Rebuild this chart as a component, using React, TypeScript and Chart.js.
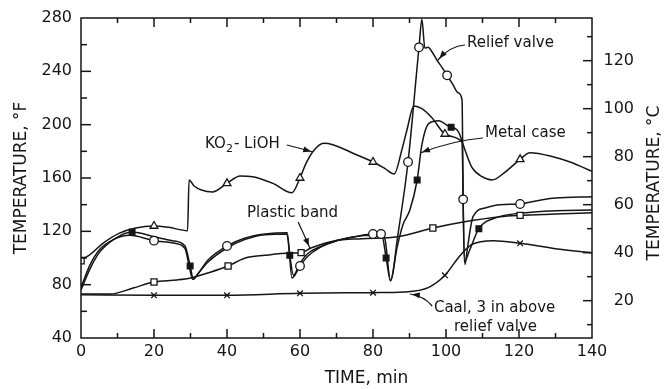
import React, { useEffect, useRef } from "react";
import { Chart, registerables } from "chart.js";

Chart.register(...registerables);

type P = [number, number];

// ---- axes ----
const timeRange: P = [0, 140];
const tempFRange: P = [40, 280];
const timeLabels = [0, 20, 40, 60, 80, 100, 120, 140];
const tempFLabels = [40, 80, 120, 160, 200, 240, 280];
const tempCLabels = [20, 40, 60, 80, 100, 120];

// ---- series (time min, temperature °F) ----
const ko2LiOH: P[] = [
  [0, 99], [2.2, 102], [6, 111], [10.4, 118.5], [15, 122.5], [20, 124], [24, 123], [29.2, 120.5],
  [29.6, 158.5], [31, 154], [33, 151], [36, 149.5], [40, 156], [43.6, 161.5], [47, 161], [52.6, 156],
  [57.8, 149], [60, 160], [61.5, 170], [63.6, 180], [66.5, 186], [69, 185], [75, 178], [80, 172],
  [83.3, 167], [85.8, 163], [87.9, 181], [89.3, 196], [91.2, 214], [93.4, 212], [96.2, 205],
  [99.7, 193], [104.4, 187], [105.2, 181], [107.1, 168], [109.9, 161], [112.6, 158.5], [116, 164],
  [120.3, 174], [123, 179], [129.3, 176], [134, 172], [140, 165],
];
const ko2LiOHMarks: P[] = [[0, 98], [20, 124], [40, 156], [60, 160], [80, 172], [99.7, 193], [120.3, 174]];

const reliefValve: P[] = [
  [0, 78], [2.5, 95], [5, 106], [9, 114], [13.4, 117], [20, 113], [25.8, 111], [28.5, 107], [29.5, 96],
  [30.6, 84], [32, 88], [34.8, 98.5], [40, 109], [45, 115], [50.4, 118], [56.5, 119], [57.8, 85],
  [60, 94], [62, 101], [65.5, 108], [70, 113], [75, 116], [80, 118], [82.2, 118], [83.3, 114],
  [84.8, 83], [86.8, 117], [89.6, 172], [92.6, 258], [93.4, 279], [94.2, 257.5], [95.1, 258],
  [96.2, 254.5], [97.5, 248.5], [98.9, 243], [100.3, 237], [101.9, 230], [103.3, 224], [104.4, 218.5],
  [104.7, 144], [105.2, 95], [105.8, 106], [107.4, 131], [110.7, 137.5], [114.8, 140], [120.3, 140.5],
  [125, 143], [130, 145], [140, 146],
];
const reliefValveMarks: P[] = [
  [20, 113], [40, 109], [60, 94], [80, 118], [82.2, 118], [89.6, 172], [92.6, 258], [100.3, 237],
  [104.7, 144], [120.3, 140.5],
];

const metalCase: P[] = [
  [0, 76], [2.5, 92], [5, 104], [9, 114], [14, 119.5], [20, 116], [25, 113], [28.5, 109], [29.9, 94],
  [30.8, 84], [32, 88], [34.8, 97], [40, 107.5], [45, 114], [50.4, 117.5], [56.4, 118], [57.2, 102],
  [58.2, 87], [60, 96], [62, 103], [65.5, 108.5], [70, 113], [75, 116], [80, 117], [82.5, 116],
  [83.6, 100], [84.8, 83], [86.6, 108], [88.2, 125], [90.1, 136], [92.1, 158.5], [93.4, 185],
  [95.3, 201], [98, 203], [101.4, 198], [104.4, 187], [105, 97], [106.5, 106], [109, 122],
  [114, 130.5], [120, 133.5], [130, 135.5], [140, 136],
];
const metalCaseMarks: P[] = [[14, 119.5], [29.9, 94], [57.2, 102], [83.6, 100], [92.1, 158.5], [101.4, 198], [109, 122]];

const plasticBand: P[] = [
  [0, 73], [8, 73], [14.3, 77.5], [20, 82], [26.3, 83.5], [30, 85], [35, 89], [40.3, 94], [45, 100],
  [50.4, 102], [57.3, 103.7], [60.3, 104], [63, 107.5], [69.6, 113], [77, 114.5], [86.8, 116],
  [96.4, 122.5], [104.7, 127], [114.8, 131], [120.3, 132], [130, 133], [140, 134],
];
const plasticBandMarks: P[] = [[20, 82], [40.3, 94], [60.3, 104], [96.4, 122.5], [120.3, 132]];

const coal: P[] = [
  [0, 72.5], [20, 72], [40, 72], [60, 73.5], [80, 74], [88.5, 74.5], [95.3, 78], [99.7, 87],
  [103.6, 101], [107, 110], [113, 113], [120.3, 111], [130, 107], [140, 104],
];
const coalMarks: P[] = [[20, 72], [40, 72], [60, 73.5], [80, 74], [99.7, 87], [120.3, 111]];

// ---- styles ----
const INK = "#151515";
const NUM_FONT = "16px 'DejaVu Sans'";
const TITLE_FONT = "17px 'DejaVu Sans'";
const NOTE_FONT = "15px 'DejaVu Sans'";

const f2c = (f: number) => ((f - 32) * 5) / 9;
const toXY = (arr: P[]) => arr.map(([x, y]) => ({ x, y }));

// annotation anchors in data units (time, °F)
const notes = [
  { text: "Relief valve", at: [105.75, 261.25] as P },
  { text: "Metal case", at: [110.7, 193.75] as P },
  { text: "Plastic band", at: [45.5, 133.75] as P },
  { text: "Caal, 3 in above", at: [96.7, 62.5] as P },
  { text: "relief valve", at: [102.2, 48.25] as P },
];
const arrows: { from: P; ctrl: P; to: P }[] = [
  { from: [105.2, 259.75], ctrl: [101.1, 259], to: [97.8, 248.5] },
  { from: [110.1, 190], ctrl: [102.5, 188.5], to: [92.9, 178.75] },
  { from: [56.4, 184.75], ctrl: [60, 182.3], to: [63.6, 179.5] },
  { from: [59.5, 127], ctrl: [61.2, 117], to: [62.7, 107.5] },
  { from: [96.2, 64], ctrl: [94, 71.5], to: [90.1, 73] },
];
const ko2Anchor: P = [34, 185.5];

const decor = {
  id: "decor",
  beforeDraw(chart: any) {
    const { ctx } = chart;
    ctx.save();
    ctx.fillStyle = "#fff";
    ctx.fillRect(0, 0, chart.width, chart.height);
    ctx.restore();
  },
  afterDraw(chart: any) {
    const { ctx, chartArea: a, scales } = chart;
    const sx = scales.x, sy = scales.y, sc = scales.yc;
    const line = (x0: number, y0: number, x1: number, y1: number) => {
      ctx.beginPath();
      ctx.moveTo(x0, y0);
      ctx.lineTo(x1, y1);
      ctx.stroke();
    };
    ctx.save();
    ctx.strokeStyle = INK;
    ctx.fillStyle = INK;
    ctx.lineWidth = 1.5;
    ctx.strokeRect(a.left, a.top, a.right - a.left, a.bottom - a.top);

    // time ticks (bottom + top)
    for (let t = timeRange[0] + 10; t < timeRange[1]; t += 10) {
      const px = sx.getPixelForValue(t);
      const len = t % 20 === 0 ? 9 : 5;
      line(px, a.bottom, px, a.bottom - len);
      line(px, a.top, px, a.top + len);
    }
    // °F ticks (left)
    for (let f = tempFRange[0] + 20; f < tempFRange[1]; f += 20) {
      const py = sy.getPixelForValue(f);
      const len = f % 40 === 0 ? 10 : 6;
      line(a.left, py, a.left + len, py);
    }
    // °C ticks (right)
    for (let c = 10; c <= 130; c += 10) {
      const py = sc.getPixelForValue(c);
      const len = c % 20 === 0 ? 9 : 5;
      line(a.right, py, a.right - len, py);
    }

    ctx.font = NUM_FONT;
    ctx.textBaseline = "middle";
    ctx.textAlign = "center";
    timeLabels.forEach((t) => ctx.fillText(String(t), sx.getPixelForValue(t), a.bottom + 14));
    ctx.textAlign = "right";
    tempFLabels.forEach((f) => ctx.fillText(String(f), a.left - 9, sy.getPixelForValue(f)));
    tempCLabels.forEach((c) => ctx.fillText(String(c), a.right + 42, sc.getPixelForValue(c)));

    // axis titles
    ctx.font = TITLE_FONT;
    ctx.textAlign = "center";
    ctx.fillText("TIME, min", (a.left + a.right) / 2 + 30, a.bottom + 41);
    ctx.save();
    ctx.translate(22, (a.top + a.bottom) / 2);
    ctx.rotate(-Math.PI / 2);
    ctx.fillText("TEMPERATURE, °F", 0, 0);
    ctx.restore();
    ctx.save();
    ctx.translate(a.right + 63, (a.top + a.bottom) / 2 + 5);
    ctx.rotate(-Math.PI / 2);
    ctx.fillText("TEMPERATURE, °C", 0, 0);
    ctx.restore();

    // annotations
    ctx.font = NOTE_FONT;
    ctx.textAlign = "left";
    notes.forEach((n) => ctx.fillText(n.text, sx.getPixelForValue(n.at[0]), sy.getPixelForValue(n.at[1])));
    {
      let kx = sx.getPixelForValue(ko2Anchor[0]);
      const ky = sy.getPixelForValue(ko2Anchor[1]);
      ctx.fillText("KO", kx, ky);
      kx += ctx.measureText("KO").width;
      ctx.font = "11px 'DejaVu Sans'";
      ctx.fillText("2", kx, ky + 5);
      kx += ctx.measureText("2").width + 1;
      ctx.font = NOTE_FONT;
      ctx.fillText("- LiOH", kx, ky);
    }
    ctx.lineWidth = 1.2;
    arrows.forEach((ar) => {
      const x0 = sx.getPixelForValue(ar.from[0]), y0 = sy.getPixelForValue(ar.from[1]);
      const cx = sx.getPixelForValue(ar.ctrl[0]), cy = sy.getPixelForValue(ar.ctrl[1]);
      const x1 = sx.getPixelForValue(ar.to[0]), y1 = sy.getPixelForValue(ar.to[1]);
      ctx.beginPath();
      ctx.moveTo(x0, y0);
      ctx.quadraticCurveTo(cx, cy, x1, y1);
      ctx.stroke();
      const ang = Math.atan2(y1 - cy, x1 - cx);
      const L = 8, W = 3;
      const bx = x1 - Math.cos(ang) * 2, by = y1 - Math.sin(ang) * 2;
      ctx.beginPath();
      ctx.moveTo(bx, by);
      ctx.lineTo(bx - Math.cos(ang) * L - Math.sin(ang) * W, by - Math.sin(ang) * L + Math.cos(ang) * W);
      ctx.lineTo(bx - Math.cos(ang) * L + Math.sin(ang) * W, by - Math.sin(ang) * L - Math.cos(ang) * W);
      ctx.closePath();
      ctx.fill();
    });
    ctx.restore();
  },
};

const lineDs = (data: P[]) => ({
  type: "line" as const,
  data: toXY(data),
  borderColor: INK,
  borderWidth: 1.5,
  pointRadius: 0,
  fill: false,
  cubicInterpolationMode: "monotone" as const,
  order: 2,
});
const markDs = (data: P[], style: any, filled: boolean, radius = 4) => ({
  type: "line" as const,
  data: toXY(data),
  showLine: false,
  pointStyle: style,
  pointRadius: radius,
  pointBackgroundColor: filled ? INK : "#fff",
  pointBorderColor: INK,
  pointBorderWidth: 1.3,
  order: 1,
});

export default function App() {
  const ref = useRef<HTMLCanvasElement | null>(null);
  useEffect(() => {
    document.body.style.margin = "0";
    const canvas = ref.current;
    if (!canvas) return;
    const chart = new Chart(canvas, {
      type: "line",
      data: {
        datasets: [
          lineDs(ko2LiOH),
          lineDs(reliefValve),
          lineDs(metalCase),
          lineDs(plasticBand),
          lineDs(coal),
          markDs(ko2LiOHMarks, ko2LiOHMarks.map((_, i) => (i === 0 ? "rect" : "triangle")), false, 4.5),
          markDs(reliefValveMarks, "circle", false, 4.3),
          markDs(metalCaseMarks, "rect", true, 4),
          markDs(plasticBandMarks, "rect", false, 4.3),
          markDs(coalMarks, "crossRot", false, 4),
        ] as any,
      },
      options: {
        animation: false,
        responsive: false,
        devicePixelRatio: 1,
        layout: { padding: { left: 81, top: 18, right: 72, bottom: 51 } },
        plugins: { legend: { display: false }, tooltip: { enabled: false } },
        scales: {
          x: { type: "linear", min: timeRange[0], max: timeRange[1], display: false },
          y: { type: "linear", min: tempFRange[0], max: tempFRange[1], display: false },
          yc: { type: "linear", position: "right", min: f2c(tempFRange[0]), max: f2c(tempFRange[1]), display: false },
        },
      },
      plugins: [decor],
    });
    return () => chart.destroy();
  }, []);
  return (
    <div style={{ width: 664, height: 389 }}>
      <canvas ref={ref} width={664} height={389} />
    </div>
  );
}
